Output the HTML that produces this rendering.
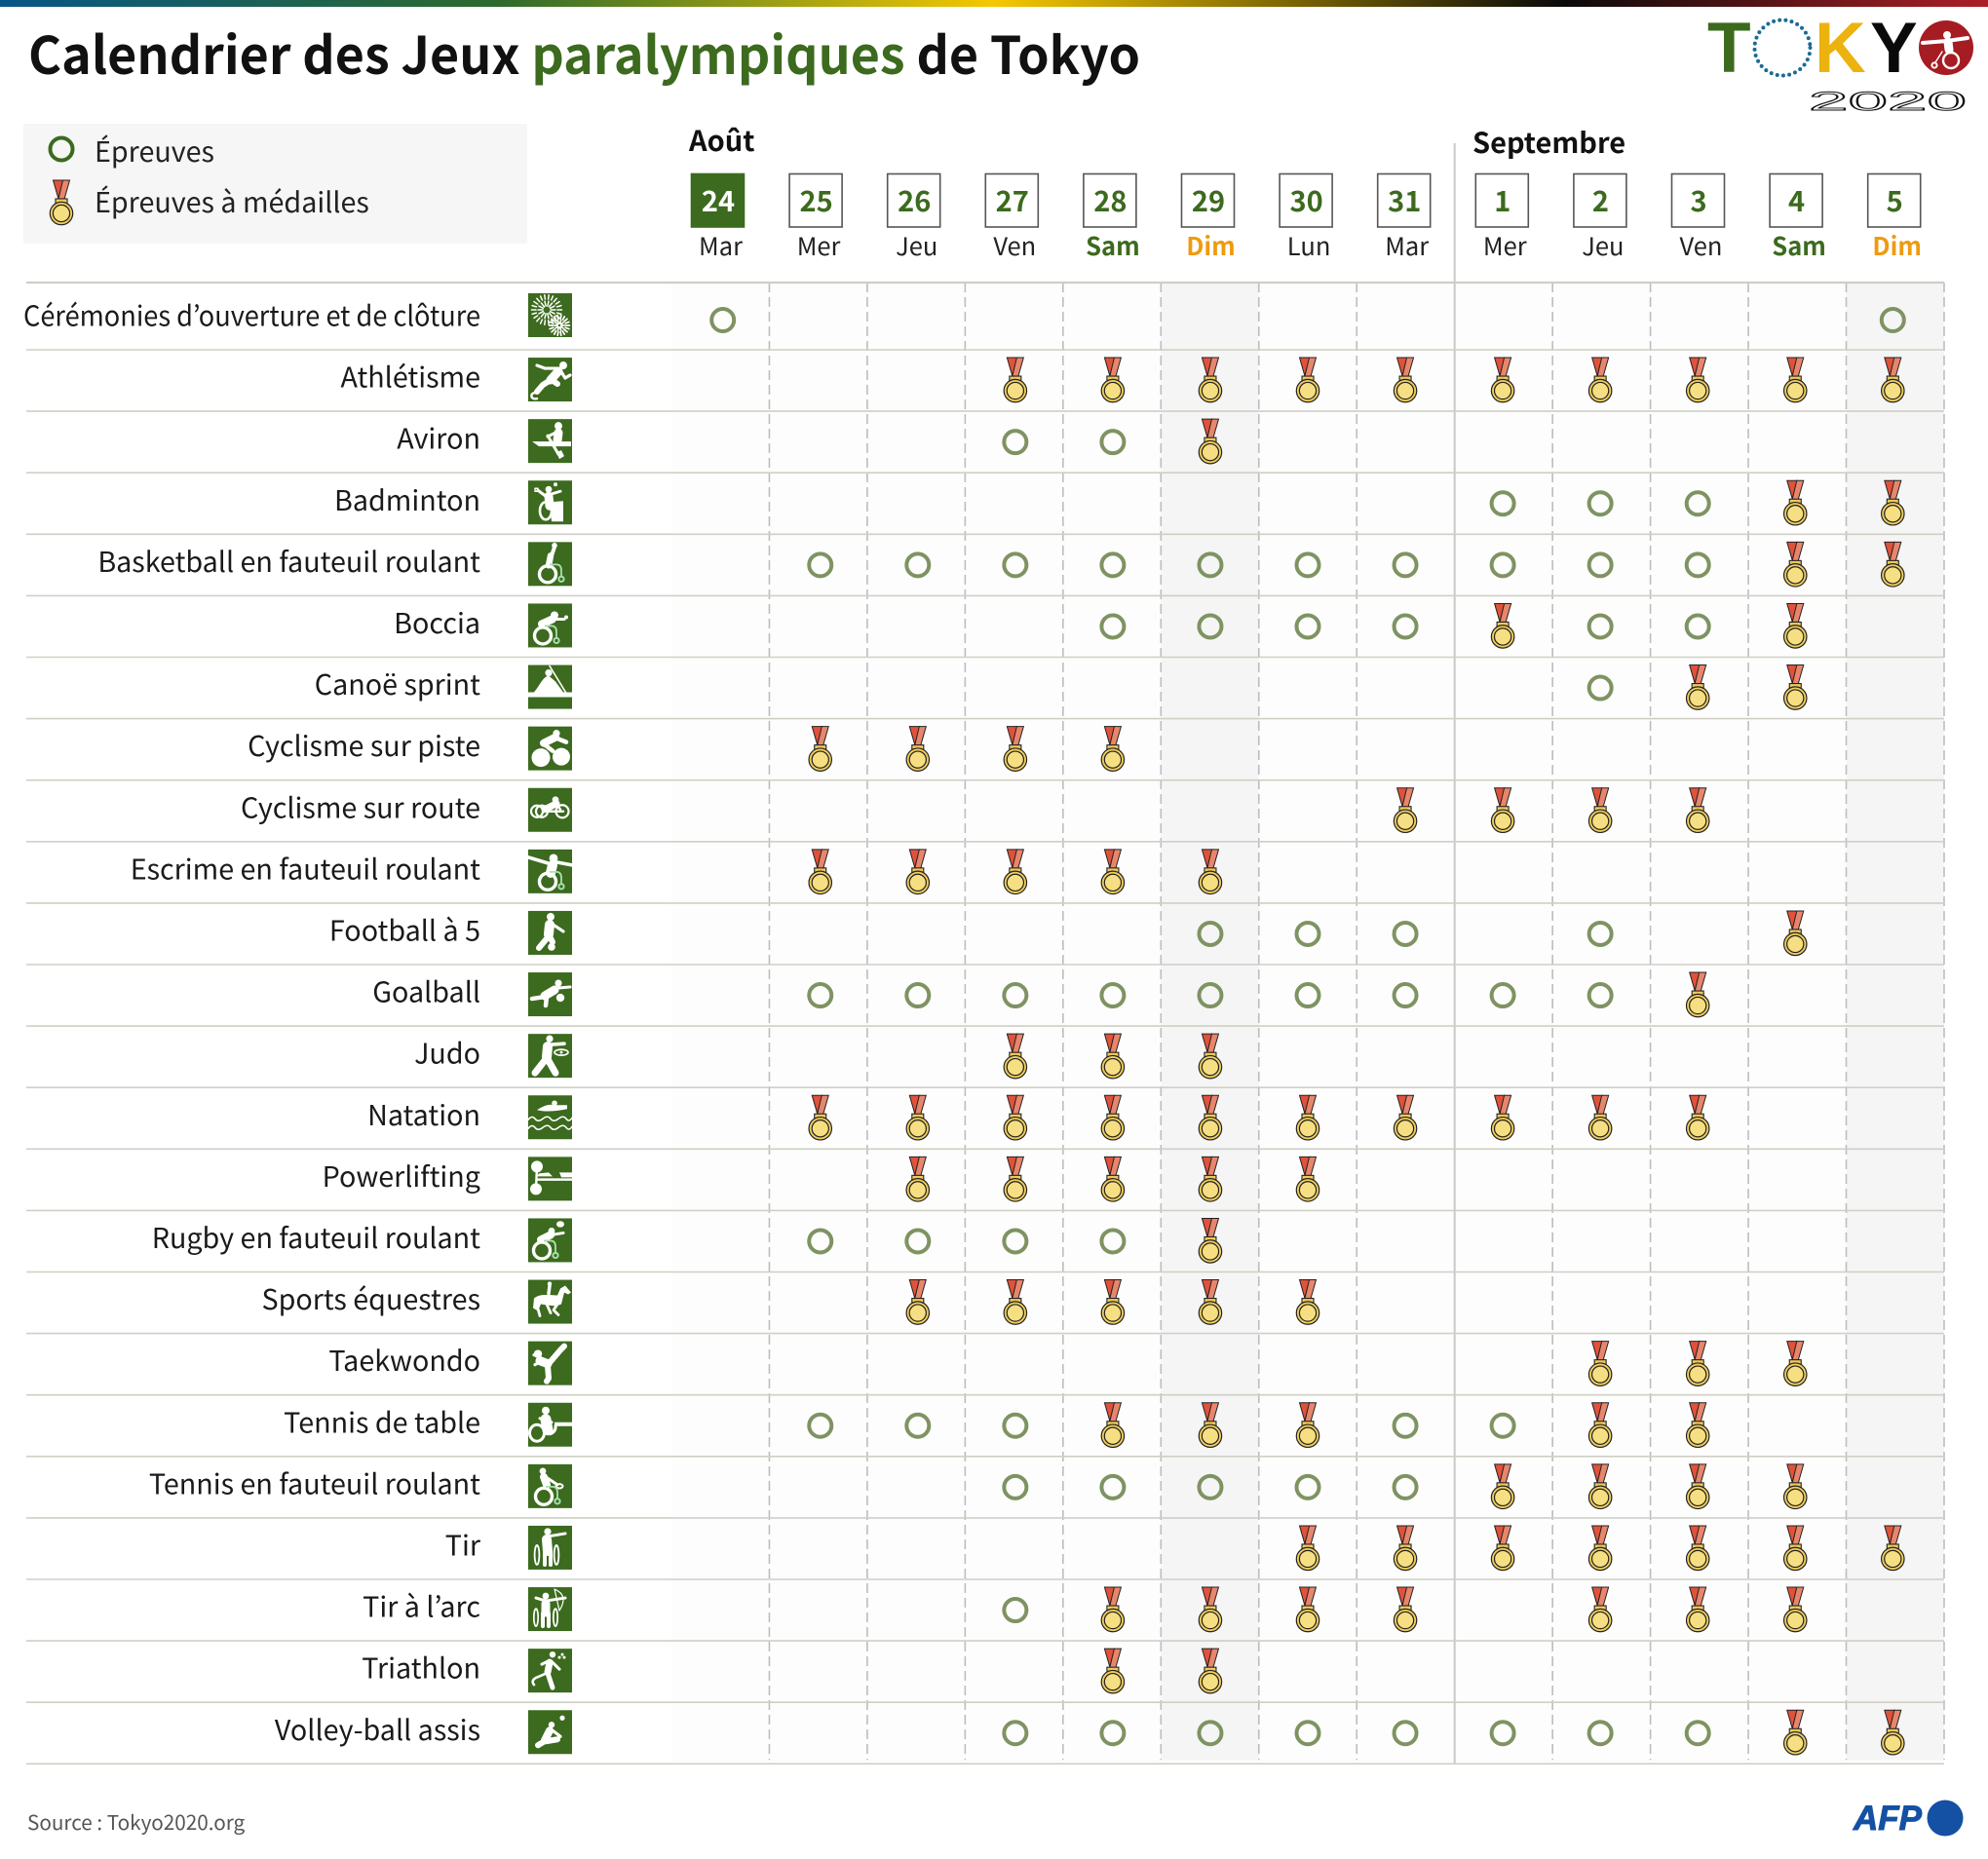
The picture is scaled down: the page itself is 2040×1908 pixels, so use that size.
<!DOCTYPE html>
<html lang="fr">
<head>
<meta charset="utf-8">
<title>Calendrier des Jeux paralympiques de Tokyo</title>
<style>
html,body{margin:0;padding:0;background:#fff;width:2040px;height:1908px;overflow:hidden}
svg{display:block}
text{font-family:"Noto Sans CJK JP","Liberation Sans",sans-serif}
.s{fill:none;stroke:#fff;stroke-linecap:round;stroke-linejoin:round;stroke-width:2}
.f{fill:#fff}
.g{fill:none;stroke:#a6e0ad;stroke-width:1.8}
</style>
</head>
<body>
<svg id="chart" xmlns="http://www.w3.org/2000/svg" width="2040" height="1908" viewBox="0 0 2040 1908">
  <defs>
    <linearGradient id="topGrad" x1="0" x2="1" y1="0" y2="0">
      <stop offset="0" stop-color="#085686"/>
      <stop offset=".25" stop-color="#2c6a2c"/>
      <stop offset=".5" stop-color="#f5c800"/>
      <stop offset=".787" stop-color="#0a0a0a"/>
      <stop offset="1" stop-color="#ad1f25"/>
    </linearGradient>
  </defs>
  <rect x="0" y="0" width="2040" height="7" fill="url(#topGrad)"/>
  <text x="29" y="76" font-size="53" font-weight="700" fill="#111" textLength="1141" lengthAdjust="spacingAndGlyphs">Calendrier des Jeux <tspan fill="#3c6a1e">paralympiques</tspan> de Tokyo</text>

  <g>
    <text x="1752" y="74" style="font-family:'Liberation Sans',sans-serif" font-size="73" font-weight="700" fill="#3c6a1e">T</text>
    <circle cx="1829" cy="49" r="28.5" fill="none" stroke="#1a6a94" stroke-width="4" stroke-linecap="round" stroke-dasharray="0 6.25"/>
    <text x="1862" y="74" style="font-family:'Liberation Sans',sans-serif" font-size="73" font-weight="700" fill="#ecb20e">K</text>
    <text x="1919" y="74" style="font-family:'Liberation Sans',sans-serif" font-size="73" font-weight="700" fill="#0a0a0a">Y</text>
    <circle cx="1997" cy="49" r="28" fill="#a51c22"/>
    <g transform="translate(1975 27)">
      <circle class="f" cx="23" cy="9" r="4"/>
      <path class="s" style="stroke-width:4" d="M-2 17L23 15L44 12"/>
      <path class="s" style="stroke-width:9" d="M24 16L25 24"/>
      <circle class="s" style="stroke-width:2.4" cx="27" cy="35" r="8"/>
      <circle class="s" style="stroke-width:2" cx="10" cy="40" r="2.6"/>
      <path class="s" style="stroke-width:1.4" d="M18 26L11 37"/>
    </g>
    <text x="1856" y="113" font-size="27" textLength="162" lengthAdjust="spacingAndGlyphs" style="font-family:'Liberation Sans',sans-serif" fill="none" stroke="#111" stroke-width=".9">2020</text>
  </g>

  <g>
    <rect x="24" y="127" width="517" height="123" fill="#f6f6f6"/>
    <circle cx="63" cy="153" r="11.5" fill="none" stroke="#3c6a1e" stroke-width="4"/>
    <text x="97" y="166" font-size="28.7" fill="#222">Épreuves</text>
    <g id="legendMedal" transform="translate(63 185)"></g>
    <text x="97" y="218" font-size="28.7" fill="#222">Épreuves à médailles</text>
  </g>

  <g id="plot"></g>

  <text x="28" y="1878" font-size="20.7" fill="#555">Source : Tokyo2020.org</text>
  <g>
    <text x="1902" y="1878" style="font-family:'Liberation Sans',sans-serif" font-size="35" font-weight="700" font-style="italic" fill="#1450a3" stroke="#1450a3" stroke-width="1">AFP</text>
    <circle cx="1996" cy="1866" r="18.5" fill="#1450a3"/>
  </g>
</svg>

<script>
/* ---------- chart data ---------- */
const months = ["Août", "Septembre"];
const dayNumbers = [24, 25, 26, 27, 28, 29, 30, 31, 1, 2, 3, 4, 5];
const weekdays = ["Mar", "Mer", "Jeu", "Ven", "Sam", "Dim", "Lun", "Mar", "Mer", "Jeu", "Ven", "Sam", "Dim"];
const sports = [
  "Cérémonies d’ouverture et de clôture", "Athlétisme", "Aviron", "Badminton",
  "Basketball en fauteuil roulant", "Boccia", "Canoë sprint", "Cyclisme sur piste",
  "Cyclisme sur route", "Escrime en fauteuil roulant", "Football à 5", "Goalball",
  "Judo", "Natation", "Powerlifting", "Rugby en fauteuil roulant", "Sports équestres",
  "Taekwondo", "Tennis de table", "Tennis en fauteuil roulant", "Tir", "Tir à l’arc",
  "Triathlon", "Volley-ball assis"
];
/* 0 = rien, 1 = épreuves, 2 = épreuves à médailles; one column per date */
const schedule = [
  [1,0,0,0,0,0,0,0,0,0,0,0,1],
  [0,0,0,2,2,2,2,2,2,2,2,2,2],
  [0,0,0,1,1,2,0,0,0,0,0,0,0],
  [0,0,0,0,0,0,0,0,1,1,1,2,2],
  [0,1,1,1,1,1,1,1,1,1,1,2,2],
  [0,0,0,0,1,1,1,1,2,1,1,2,0],
  [0,0,0,0,0,0,0,0,0,1,2,2,0],
  [0,2,2,2,2,0,0,0,0,0,0,0,0],
  [0,0,0,0,0,0,0,2,2,2,2,0,0],
  [0,2,2,2,2,2,0,0,0,0,0,0,0],
  [0,0,0,0,0,1,1,1,0,1,0,2,0],
  [0,1,1,1,1,1,1,1,1,1,2,0,0],
  [0,0,0,2,2,2,0,0,0,0,0,0,0],
  [0,2,2,2,2,2,2,2,2,2,2,0,0],
  [0,0,2,2,2,2,2,0,0,0,0,0,0],
  [0,1,1,1,1,2,0,0,0,0,0,0,0],
  [0,0,2,2,2,2,2,0,0,0,0,0,0],
  [0,0,0,0,0,0,0,0,0,2,2,2,0],
  [0,1,1,1,2,2,2,1,1,2,2,0,0],
  [0,0,0,1,1,1,1,1,2,2,2,2,0],
  [0,0,0,0,0,0,2,2,2,2,2,2,2],
  [0,0,0,1,2,2,2,2,0,2,2,2,0],
  [0,0,0,0,2,2,0,0,0,0,0,0,0],
  [0,0,0,1,1,1,1,1,1,1,1,2,2]
];

/* ---------- pictogram artwork (45x45 box) ---------- */
function chair(x, y) {
  return '<circle class="s" style="stroke-width:3.4" cx="' + x + '" cy="' + y + '" r="8.5"/>' +
    '<path class="g" d="M' + (x + 2) + ' ' + (y - 10) + 'h7q5 0 5 6v6"/>' +
    '<circle class="s" style="stroke-width:2;stroke:#a6e0ad" cx="' + (x + 14) + '" cy="' + (y + 5) + '" r="2.6"/>';
}
function burst(cx, cy, r0, r1, n) {
  let d = '';
  for (let i = 0; i < n; i++) {
    const a = i * 6.2832 / n;
    d += 'M' + (cx + r0 * Math.cos(a)).toFixed(1) + ' ' + (cy + r0 * Math.sin(a)).toFixed(1) +
      'L' + (cx + r1 * Math.cos(a)).toFixed(1) + ' ' + (cy + r1 * Math.sin(a)).toFixed(1);
  }
  return d;
}
const icons = [
  '<path class="s" style="stroke-width:1.5" d="' + burst(19, 17, 4, 9, 14) + burst(19, 17, 11, 15.5, 22) + '"/><path class="s" style="stroke-width:1.7" d="' + burst(32, 33, 2, 5, 10) + burst(32, 33, 6.5, 10.5, 18) + '"/>',
  '<circle class="f" cx="36" cy="8" r="4"/><path class="s" style="stroke-width:9" d="M31 14L23 23"/><path class="s" style="stroke-width:3.2" d="M33 13L38 21L43 18M30 11H17L9 8"/><path class="s" style="stroke-width:6" d="M23 22L30 27M23 23L15 28L9 35"/><path class="s" style="stroke-width:2.4" d="M9 36C1 35 2 44 9 42"/>',
  '<circle class="f" cx="31" cy="7" r="4"/><path class="f" d="M4 23H44V28H11Z"/><path class="s" style="stroke-width:9" d="M31 14L30 22"/><path class="s" style="stroke-width:3" d="M30 13L20 18M20 17L31 36"/><path class="f" d="M29 34L34 32L37 38L32 41Z"/>',
  '<circle class="f" cx="21" cy="9" r="3.4"/><circle class="f" cx="28" cy="4" r="2"/><path class="s" style="stroke-width:1.4" d="M7 8h3v3h-3z"/><path class="s" style="stroke-width:3" d="M10 10L18 16M23 14L33 11"/><path class="s" style="stroke-width:9" d="M21 16L22 26"/><ellipse class="s" style="stroke-width:2.6" cx="18" cy="31" rx="6" ry="9"/><path class="f" d="M22 22L36 21V42H24Z"/>',
  '<circle class="f" cx="27" cy="3.5" r="2.8"/><path class="s" style="stroke-width:4" d="M27 5L24 14"/><path class="s" style="stroke-width:6.5" d="M23 14L21 24"/>' + chair(20, 33),
  '<circle class="f" cx="27" cy="12" r="4"/><circle class="f" cx="39" cy="14" r="2"/><path class="s" style="stroke-width:8" d="M14 21L25 16"/><path class="s" style="stroke-width:3" d="M26 16L37 16"/>' + chair(15, 33),
  '<path class="f" d="M0 28H45V33H0Z"/><circle class="f" cx="21" cy="8" r="3.6"/><path class="f" d="M6 28C12 21 15 12 21 11L28 17L36 28Z"/><path class="s" style="stroke-width:1.5" d="M22 1L41 32"/>',
  '<circle class="f" cx="13" cy="32" r="9.5"/><circle class="f" cx="34" cy="31" r="9"/><circle class="f" cx="29" cy="7" r="3.6"/><path class="s" style="stroke-width:8" d="M28 11L16 17"/><path class="s" style="stroke-width:4.5" d="M16 18L25 25M29 12L39 16"/>',
  '<circle class="s" style="stroke-width:2.2" cx="9" cy="24" r="6"/><circle class="s" style="stroke-width:2.2" cx="14" cy="24" r="6"/><circle class="s" style="stroke-width:2.2" cx="35" cy="24" r="6.5"/><circle class="f" cx="28" cy="12" r="3.4"/><path class="s" style="stroke-width:7" d="M17 22L29 16"/><path class="s" style="stroke-width:2.4" d="M29 16L33 22M20 24H36"/>',
  '<circle class="f" cx="26" cy="9" r="4.4"/><path class="s" style="stroke-width:3.6" d="M0 8L20 14M29 13L45 16"/><path class="s" style="stroke-width:10" d="M25 16L23 24"/>' + chair(20, 33),
  '<circle class="f" cx="23" cy="6" r="4"/><path class="s" style="stroke-width:10" d="M22 14L21 24"/><path class="s" style="stroke-width:3.2" d="M24 13L36 21"/><path class="s" style="stroke-width:6" d="M21 26L11 38M22 26L25 32"/><circle class="f" cx="24" cy="37" r="3.8"/>',
  '<circle class="f" cx="31" cy="11" r="3.6"/><path class="s" style="stroke-width:9" d="M27 18L17 24"/><path class="s" style="stroke-width:3" d="M31 16L43 15"/><path class="s" style="stroke-width:4.5" d="M17 25L4 27M19 25L18 34"/><circle class="f" cx="33" cy="26" r="4.2"/>',
  '<circle class="f" cx="22" cy="5" r="3.6"/><path class="s" style="stroke-width:10" d="M20 13L19 24"/><path class="s" style="stroke-width:3.6" d="M22 11L37 10"/><path class="s" style="stroke-width:7" d="M18 26L7 40M20 26L28 40"/><ellipse class="s" style="stroke-width:1.7" cx="34" cy="19" rx="7" ry="3"/><circle class="f" cx="34" cy="19" r="1.5"/>',
  '<circle class="f" cx="27" cy="8" r="2.8"/><path class="f" d="M9 15Q20 8 25 10H40V14Q20 18 9 15Z"/><path class="s" style="stroke-width:1.5" d="M0 25Q4 20 7 24T15 24T23 24T31 24T39 24T45 23M0 34Q4 29 7 33T15 33T23 33T31 33T39 33T45 32"/>',
  '<circle class="f" cx="9" cy="10" r="6"/><circle class="f" cx="8" cy="33" r="6"/><path class="s" style="stroke-width:2.4" d="M9 10L8 33"/><path class="f" d="M11 17L21 16L25 20H9Z"/><path class="f" d="M9 22H45V24.5H9Z"/><path class="f" d="M32 16H45V21H34Z"/>',
  '<ellipse class="f" cx="33" cy="6" rx="4" ry="3.2"/><circle class="f" cx="24" cy="13" r="3.4"/><path class="s" style="stroke-width:8" d="M13 22L23 17"/><path class="s" style="stroke-width:3" d="M24 17L36 15"/>' + chair(14, 33),
  '<circle class="f" cx="22" cy="4" r="2.2"/><path class="s" style="stroke-width:3.5" d="M22 6L21 14"/><path class="f" d="M6 19C11 15 16 15 30 16L33 9L38 6L44 13L41 15L37 13L34 25L29 27L19 26L13 25L10 32L5 29Z"/><path class="s" style="stroke-width:2.8" d="M9 26L12 37M30 25L26 31L31 36M19 25L23 34"/>',
  '<circle class="f" cx="10" cy="13" r="4.2"/><path class="s" style="stroke-width:9" d="M12 20L20 23"/><path class="s" style="stroke-width:6" d="M21 23L33 9L37 5M20 25L21 38L19 41"/><path class="s" style="stroke-width:3.2" d="M12 16L6 14M12 21L7 24"/>',
  '<circle class="f" cx="18" cy="8" r="4"/><path class="s" style="stroke-width:11" d="M18 17L20 28"/><ellipse class="s" style="stroke-width:3" cx="9" cy="31" rx="7.5" ry="8.5"/><path class="s" style="stroke-width:3" d="M24 20L12 16"/><path class="s" style="stroke-width:3" d="M22 32A7 7 0 0 0 28 24"/><path class="f" d="M27 20H45V24H27Z"/>',
  '<circle class="f" cx="15" cy="7" r="3.4"/><path class="s" style="stroke-width:8" d="M16 13L19 21"/><path class="s" style="stroke-width:3" d="M18 13L30 21"/><ellipse class="s" style="stroke-width:2" cx="32" cy="22.5" rx="3.5" ry="2.2"/>' + chair(16, 33),
  '<circle class="f" cx="20" cy="6" r="3.6"/><path class="s" style="stroke-width:10" d="M19 14L20 26"/><path class="s" style="stroke-width:3" d="M20 11L38 8"/><path class="s" style="stroke-width:4" d="M17 27V40M23 27V40"/><ellipse class="s" style="stroke-width:1.8" cx="9" cy="30" rx="2.4" ry="10"/><ellipse class="s" style="stroke-width:1.8" cx="29" cy="30" rx="2.4" ry="10"/>',
  '<circle class="f" cx="18" cy="9" r="3.4"/><path class="s" style="stroke-width:9" d="M18 17L18 26"/><path class="s" style="stroke-width:3" d="M8 11L18 14L38 11"/><path class="s" style="stroke-width:1.2" d="M27 2Q42 8 32 24M27 2L32 24"/><path class="s" style="stroke-width:4" d="M15 27V40M21 27V40"/><ellipse class="s" style="stroke-width:1.7" cx="8" cy="31" rx="2.2" ry="9"/><ellipse class="s" style="stroke-width:1.7" cx="28" cy="31" rx="2.2" ry="9"/>',
  '<circle class="f" cx="25" cy="6" r="3.2"/><circle class="f" cx="35" cy="6" r="1.5"/><circle class="f" cx="32" cy="9" r="1.5"/><circle class="f" cx="37" cy="9" r="1.5"/><path class="s" style="stroke-width:7" d="M22 14L20 24"/><path class="s" style="stroke-width:3" d="M22 12L14 16M24 13L32 21"/><path class="s" style="stroke-width:5" d="M20 25L25 40"/><path class="s" style="stroke-width:2.6" d="M19 25L10 29Q2 32 6 37"/>',
  '<circle class="f" cx="35" cy="8" r="2.6"/><circle class="f" cx="24" cy="15" r="3.2"/><path class="s" style="stroke-width:8" d="M22 21L17 31"/><path class="s" style="stroke-width:3.2" d="M24 20L33 27"/><path class="s" style="stroke-width:6" d="M18 32L30 30M15 33L10 36"/>'
];

/* ---------- axis functions ---------- */
const colLeft = 689, colStep = 100.46;
const rowZero = 290, rowOne = 359, rowStep = 63.1;
const xEdge = i => colLeft + i * colStep;
const xMark = i => 741.7 + i * 100.05;
const yEdge = r => r === 0 ? rowZero : rowOne + (r - 1) * rowStep;
const yCenter = r => (yEdge(r) + yEdge(r + 1)) / 2;
const xDateBox = i => 736.5 + i * 100.6;

const SVGNS = 'http://www.w3.org/2000/svg';
function mk(tag, attrs, parent) {
  const el = document.createElementNS(SVGNS, tag);
  for (const k in attrs) el.setAttribute(k, attrs[k]);
  parent.appendChild(el);
  return el;
}
const plot = document.getElementById('plot');

function drawMedal(g) {
  g.innerHTML =
    '<path fill="#e0523a" stroke="#222" stroke-width="1" d="M-8.5 0H2L-3.5 20L-3 19Z"/>' +
    '<path fill="#e8866c" stroke="#222" stroke-width="1" d="M1.5 0H8.5L2.5 21H-3.5Z"/>' +
    '<rect x="-6" y="19" width="12" height="6" fill="#efc95a" stroke="#222" stroke-width="1.1"/>' +
    '<circle cy="34" r="11.7" fill="#f0cd5c" stroke="#222" stroke-width="1.2"/>' +
    '<circle cy="34" r="8.6" fill="#f5df82" stroke="#222" stroke-width="1.2"/>';
}
drawMedal(document.getElementById('legendMedal'));

/* month labels */
const aout = mk('text', {x: 707, y: 155, 'font-size': 29, 'font-weight': 700, fill: '#111'}, plot);


aout.textContent = months[0];
const sept = mk('text', {x: 1511, y: 157, 'font-size': 29, 'font-weight': 700, fill: '#111'}, plot);


sept.textContent = months[1];

/* plot backdrop + Sunday shading */
const backdrop = mk('rect', {x: xEdge(0), y: rowZero, width: xEdge(13) - xEdge(0), height: yEdge(24) - rowZero, fill: '#fdfdfd'}, plot);


weekdays.forEach((w, i) => {
  if (w !== 'Dim') return;
  const shade = mk('rect', {x: xEdge(i), y: rowZero, width: colStep, height: yEdge(24) - rowZero - 4, fill: '#f5f5f5'}, plot);
  
  
});

/* date headers */
dayNumbers.forEach((d, i) => {
  const first = i === 0;
  const box = mk('rect', {x: xDateBox(i) - 27, y: 178.5, width: 54, height: 54.5, fill: first ? '#3c6a1e' : '#fff', stroke: first ? '#3c6a1e' : '#555', 'stroke-width': 1.6}, plot);
  
  
  const num = mk('text', {x: xDateBox(i) + 0.5, y: 217, 'text-anchor': 'middle', 'font-size': 29, 'font-weight': 700, fill: first ? '#fff' : '#3c6a1e'}, plot);
  
  
  num.textContent = d;
  const w = weekdays[i];
  const wk = mk('text', {x: xDateBox(i) + 3, y: 262, 'text-anchor': 'middle', 'font-size': 25.5, 'font-weight': (w === 'Sam' || w === 'Dim') ? 700 : 400, fill: w === 'Sam' ? '#3c6a1e' : w === 'Dim' ? '#ef9a0f' : '#222'}, plot);
  
  
  wk.textContent = w;
});

/* vertical grid lines */
for (let i = 1; i <= 13; i++) {
  const month = dayNumbers[i] === 1;
  const v = mk('line', month
    ? {x1: xEdge(i), x2: xEdge(i), y1: 147, y2: yEdge(24), stroke: '#c9c9c9', 'stroke-width': 2}
    : {x1: xEdge(i), x2: xEdge(i), y1: rowZero, y2: yEdge(24) - 4, stroke: '#bdbdbd', 'stroke-width': 1.6, 'stroke-dasharray': '10 5'}, plot);
  
  
}

/* horizontal rules */
for (let r = 0; r <= sports.length; r++) {
  const h = mk('line', {x1: 27, x2: xEdge(13), y1: yEdge(r), y2: yEdge(r), stroke: '#cfcfc6', 'stroke-width': r === 0 ? 2.2 : 1.6}, plot);
  
  
}

/* rows */
sports.forEach((name, r) => {
  const yc = yCenter(r);
  const label = mk('text', {x: 493, y: r === 0 ? yc + 10 : yc + 7, 'text-anchor': 'end', 'font-size': 28.7, fill: '#1a1a1a'}, plot);
  if (r === 0) {
    label.setAttribute('textLength', 469);
    label.setAttribute('lengthAdjust', 'spacingAndGlyphs');
  }
  
  
  label.textContent = name;

  const icon = mk('g', {transform: 'translate(542 ' + (yc - 23.5) + ')'}, plot);
  
  
  icon.innerHTML = '<rect width="45" height="45" fill="#3c6a1e"/>' + icons[r];

  schedule[r].forEach((v, c) => {
    if (v === 1) {
      const ring = mk('circle', {cx: xMark(c), cy: r === 0 ? yc + 4 : yc, r: 11.5, fill: 'none', stroke: '#7f9362', 'stroke-width': 4}, plot);
      
      
    } else if (v === 2) {
      const medal = mk('g', {transform: 'translate(' + xMark(c) + ' ' + (yc - 23.5) + ')'}, plot);
      
      
      drawMedal(medal);
    }
  });
});
</script>
</body>
</html>
